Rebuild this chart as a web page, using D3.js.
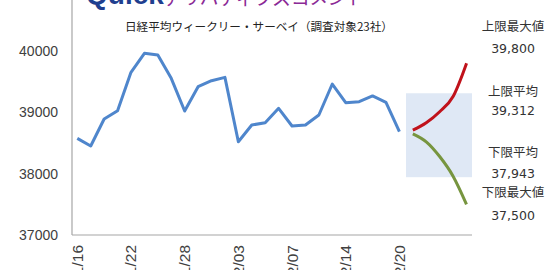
<!DOCTYPE html>
<html>
<head>
<meta charset="utf-8">
<script src="https://cdn.jsdelivr.net/npm/d3@7"></script>
<style>
  body { margin: 0; background: #fff; }
  svg { display: block; }
</style>
</head>
<body>
<svg width="550" height="270"></svg>
<script>
// weekly closes (actual)
var dates = ["11/16","11/22","11/28","12/03","12/07","12/14","12/20"];
var actual = [38577,38452,38892,39028,39654,39964,39936,39556,39023,39419,39517,39572,
              38522,38794,38832,39067,38778,38794,38958,39463,39158,39175,39268,39165,38685];
// forecast paths (next 5 steps)
var upperPath = [38710,38830,39010,39260,39800];
var lowerPath = [38650,38520,38280,37960,37500];
var bandVals = [39312,37943];
var sideLabels = ["上限最大値","上限平均","下限平均","下限最大値"];
var sideValues = [39800,39312,37943,37500];

var svg = d3.select("svg");
var left = 72, right = 472, bottom = 235;

var y = d3.scaleLinear().domain([37000,41000]).range([bottom, bottom - 4*61.3]);
var x = d3.scaleLinear().domain([0,29]).range([77.3, 466.5]);

// logo (cut at top)
svg.append("text").attr("x",86).attr("y",4)
  .attr("font-family","Liberation Sans, Arial").attr("font-weight","bold")
  .attr("font-size",28).attr("fill","#1f3f8f").text("Quick");
svg.append("text").attr("x",163).attr("y",5)
  .attr("font-family","Noto Sans CJK JP").attr("font-size",19).attr("fill","#8b2a96")
  .attr("textLength",202).attr("lengthAdjust","spacing")
  .text("デリバティブズコメント");

// subtitle
svg.append("text").attr("x",125).attr("y",31)
  .attr("font-family","Noto Sans CJK JP").attr("font-size",11.6).attr("fill","#222")
  .text("日経平均ウィークリー・サーベイ（調査対象23社）");

// band
svg.append("rect")
  .attr("x",406).attr("width",66)
  .attr("y",y(bandVals[0])).attr("height",y(bandVals[1]) - y(bandVals[0]))
  .attr("fill","#dfe8f5");

// axes lines
svg.append("line").attr("x1",left).attr("x2",left).attr("y1",0).attr("y2",bottom)
  .attr("stroke","#a6a6a6").attr("stroke-width",1.2);
svg.append("line").attr("x1",left).attr("x2",right).attr("y1",bottom).attr("y2",bottom)
  .attr("stroke","#a6a6a6").attr("stroke-width",1.2);

// y tick labels
var yAxis = d3.axisLeft(y).tickValues([37000,38000,39000,40000]).tickSize(0).tickPadding(14)
  .tickFormat(d3.format("d"));
var gy = svg.append("g").attr("transform","translate(" + left + ",0)").call(yAxis);
gy.select(".domain").remove();
gy.selectAll("text").attr("font-family","Liberation Sans, Arial").attr("font-size",14).attr("fill","#404040");

// x tick labels (rotated)
svg.selectAll(".xl").data(dates).enter().append("text")
  .attr("class","xl")
  .attr("transform", function(d,i){ return "translate(" + (x(i*4)+5.5) + "," + (bottom+10) + ") rotate(-90)"; })
  .attr("text-anchor","end")
  .attr("font-family","Liberation Sans, Arial").attr("font-size",15.5).attr("fill","#404040")
  .text(function(d){ return d; });

// actual line
var line = d3.line().x(function(d,i){ return x(i); }).y(function(d){ return y(d); });
svg.append("path").datum(actual).attr("d",line)
  .attr("fill","none").attr("stroke","#4f86cc").attr("stroke-width",3).attr("stroke-linejoin","round");

// forecast lines
var fline = d3.line().curve(d3.curveMonotoneX)
  .x(function(d,i){ return x(25+i); }).y(function(d){ return y(d); });
svg.append("path").datum(upperPath).attr("d",fline)
  .attr("fill","none").attr("stroke","#c0121b").attr("stroke-width",3);
svg.append("path").datum(lowerPath).attr("d",fline)
  .attr("fill","none").attr("stroke","#77953f").attr("stroke-width",3);

// side labels
var labY = [27,92,153,193];
var valY = [48,110,173,215];
sideLabels.forEach(function(t,i){
  svg.append("text").attr("x",513).attr("y",labY[i]+4).attr("text-anchor","middle")
    .attr("font-family","Noto Sans CJK JP").attr("font-size",12.5).attr("fill","#333")
    .text(t);
  svg.append("text").attr("x",513).attr("y",valY[i]+5).attr("text-anchor","middle")
    .attr("font-family","DejaVu Sans").attr("font-size",12.5).attr("fill","#333")
    .text(d3.format(",")(sideValues[i]));
});
</script>
</body>
</html>
